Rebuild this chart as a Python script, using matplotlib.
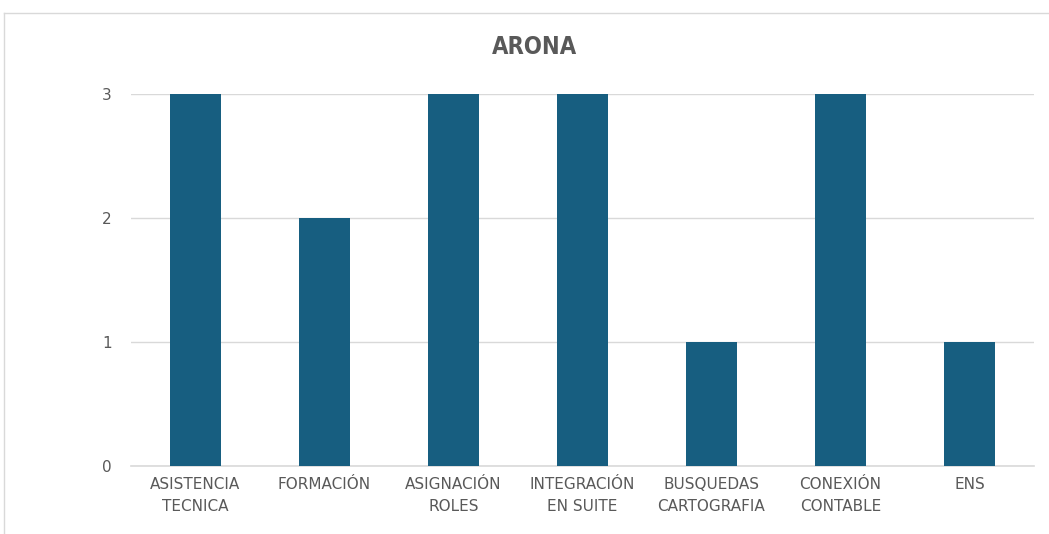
import matplotlib
matplotlib.use("Agg")
import matplotlib.pyplot as plt
from matplotlib.lines import Line2D

categories = ["ASISTENCIA\nTECNICA", "FORMACIÓN", "ASIGNACIÓN\nROLES", "INTEGRACIÓN\nEN SUITE",
              "BUSQUEDAS\nCARTOGRAFIA", "CONEXIÓN\nCONTABLE", "ENS"]
values = [3, 2, 3, 3, 1, 3, 1]
yticks = [0, 1, 2, 3]
title = "ARONA"

W, H = 1049, 534
fig = plt.figure(figsize=(W / 100, H / 100), dpi=100)
fig.patch.set_facecolor("white")

ax = fig.add_axes([131 / W, 1 - 466 / H, (1034 - 131) / W, (466 - 94) / H])
x = range(len(categories))
ax.bar(x, values, width=0.4, color="#175E80", zorder=3)
ax.set_xlim(-0.5, len(categories) - 0.5)
ax.set_ylim(0, 3)
ax.set_yticks(yticks)
ax.set_xticks(list(x))
ax.set_xticklabels(categories, fontsize=11, color="#595959", linespacing=1.6)
ax.tick_params(axis="y", labelsize=11, labelcolor="#595959", length=0, pad=14)
ax.tick_params(axis="x", length=0, pad=8)
ax.grid(axis="y", color="#D9D9D9", linewidth=1, zorder=0)
ax.axhline(0, color="#D9D9D9", linewidth=1.2, zorder=2, clip_on=False)
for s in ax.spines.values():
    s.set_visible(False)

fig.text(535 / W, 1 - 47 / H, title, ha="center", va="center", fontsize=17,
         fontweight="bold", color="#595959", fontstretch="condensed")

# outer chart border (partially visible)
fig.add_artist(Line2D([4 / W, 1], [1 - 13 / H, 1 - 13 / H], transform=fig.transFigure,
                      color="#D9D9D9", linewidth=1))
fig.add_artist(Line2D([4 / W, 4 / W], [0, 1 - 13 / H], transform=fig.transFigure,
                      color="#D9D9D9", linewidth=1))

fig.savefig("out.png", dpi=100)
